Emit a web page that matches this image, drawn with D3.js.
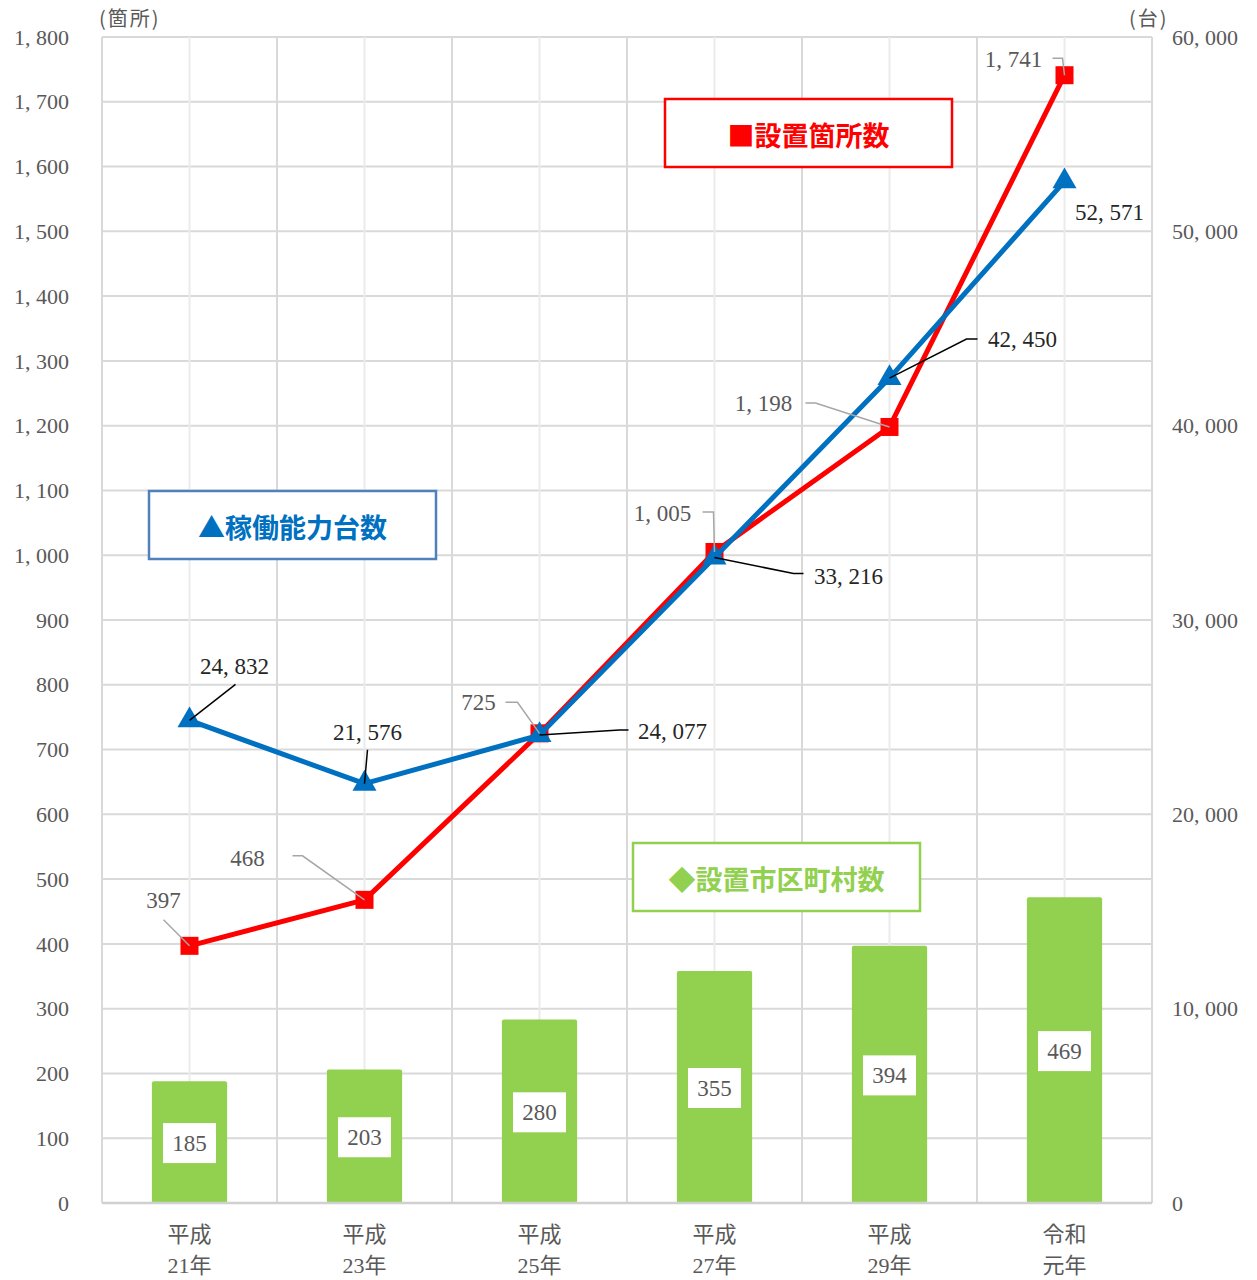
<!DOCTYPE html>
<html><head><meta charset="utf-8">
<script src="https://cdn.jsdelivr.net/npm/d3@7"></script>
<style>
html,body{margin:0;padding:0;background:#fff;}
svg{display:block;}
</style></head>
<body>
<svg id="chart" width="1257" height="1280"></svg>
<script>
// ---- data ----
const categories = [["平成","21年"],["平成","23年"],["平成","25年"],["平成","27年"],["平成","29年"],["令和","元年"]];
const municipalities = [185, 203, 280, 355, 394, 469];      // bars, left axis
const locations = [397, 468, 725, 1005, 1198, 1741];          // red line, left axis
const capacity = [24832, 21576, 24077, 33216, 42450, 52571];  // blue line, right axis
const leftTicks = [0,100,200,300,400,500,600,700,800,900,1000,1100,1200,1300,1400,1500,1600,1700,1800];
const rightTicks = [0,10000,20000,30000,40000,50000,60000];

// ---- label layout (pixel offsets from each point) ----
const redLabelOffsets = [[-26,-46],[-117,-42],[-61,-31],[-52,-39],[-126,-24],[-51,-16]];
const redLeaders = [
  [[-26,-26],[0,0]],
  [[-72,-44],[-62,-44],[0,0]],
  [[-34,-31],[-22,-31],[0,0]],
  [[-12,-40],[-1,-40],[0,0]],
  [[-84,-24],[-74,-24],[0,0]],
  [[-12,-17],[-2,-17],[0,0]]
];
const blueLabelOffsets = [[45,-54],[3,-52],[133,-4],[134,18],[133,-39],[45,31]];
const blueLeaders = [
  [[46,-36],[0,0]],
  [[3,-34],[0,0]],
  [[0,0],[80,-5],[89,-5]],
  [[0,0],[79,16],[89,16]],
  [[0,0],[77,-39],[88,-39]],
  null
];

const svg = d3.select("#chart");
const L = 102, R = 1152, T = 37, B = 1203;
const serif = "'Liberation Serif','Noto Sans CJK JP',serif";
const sans = "'Noto Sans CJK JP','Noto Sans',sans-serif";
const fmt = v => d3.format(",")(v).replace(",", ", ");

const x = d3.scaleBand().domain(d3.range(categories.length)).range([L, R]).padding(0);
const yL = d3.scaleLinear().domain([0, 1800]).range([B, T]);
const yR = d3.scaleLinear().domain([0, 60000]).range([B, T]);
const cx = i => x(i) + x.bandwidth() / 2;

// grid
const grid = svg.append("g");
grid.selectAll("line.h").data(leftTicks.filter(d => d > 0)).join("line")
  .attr("x1", L).attr("x2", R).attr("y1", d => yL(d)).attr("y2", d => yL(d))
  .attr("stroke", "#d9d9d9").attr("stroke-width", 2);
grid.selectAll("line.vb").data(d3.range(categories.length + 1)).join("line")
  .attr("x1", i => L + i * x.bandwidth()).attr("x2", i => L + i * x.bandwidth())
  .attr("y1", T).attr("y2", B).attr("stroke", "#d9d9d9").attr("stroke-width", 2);
grid.selectAll("line.vc").data(d3.range(categories.length)).join("line")
  .attr("x1", cx).attr("x2", cx).attr("y1", T).attr("y2", B)
  .attr("stroke", "#ebebeb").attr("stroke-width", 2);

// bars
const bw = x.bandwidth() * 0.43;
svg.append("g").selectAll("rect").data(municipalities).join("rect")
  .attr("x", (d, i) => cx(i) - bw / 2).attr("width", bw)
  .attr("y", d => yL(d) - 2).attr("height", d => B - yL(d) + 2)
  .attr("rx", 2).attr("fill", "#92D050");

// bottom axis line
svg.append("line").attr("x1", L).attr("x2", R).attr("y1", B).attr("y2", B)
  .attr("stroke", "#d0d0d0").attr("stroke-width", 2.5);

// bar labels
const bl = svg.append("g");
municipalities.forEach((d, i) => {
  const my = (yL(d) + B) / 2;
  bl.append("rect").attr("x", cx(i) - 26.5).attr("y", my - 20).attr("width", 53).attr("height", 40).attr("fill", "#fff");
  bl.append("text").attr("x", cx(i)).attr("y", my).attr("dy", "0.35em").attr("text-anchor", "middle")
    .attr("font-family", serif).attr("font-size", 23).attr("fill", "#595959").text(d);
});

// leaders
const lineGen = d3.line();
function drawLeaders(values, scale, leaders, color) {
  values.forEach((v, i) => {
    if (!leaders[i]) return;
    const px = cx(i), py = scale(v);
    svg.append("path").attr("d", lineGen(leaders[i].map(p => [px + p[0], py + p[1]])))
      .attr("fill", "none").attr("stroke", color).attr("stroke-width", 1.5);
  });
}

// red line
svg.append("path").datum(locations)
  .attr("d", d3.line().x((d, i) => cx(i)).y(d => yL(d)))
  .attr("fill", "none").attr("stroke", "#FF0000").attr("stroke-width", 5).attr("stroke-linejoin", "round");
svg.append("g").selectAll("rect").data(locations).join("rect")
  .attr("x", (d, i) => cx(i) - 9).attr("y", d => yL(d) - 9).attr("width", 18).attr("height", 18).attr("fill", "#FF0000");

// blue line
svg.append("path").datum(capacity)
  .attr("d", d3.line().x((d, i) => cx(i)).y(d => yR(d)))
  .attr("fill", "none").attr("stroke", "#0070C0").attr("stroke-width", 5).attr("stroke-linejoin", "round");
svg.append("g").selectAll("path").data(capacity).join("path")
  .attr("d", d3.symbol(d3.symbolTriangle, 250))
  .attr("transform", (d, i) => `translate(${cx(i)},${yR(d)})`)
  .attr("fill", "#0070C0");

drawLeaders(locations, yL, redLeaders, "#a6a6a6");
drawLeaders(capacity, yR, blueLeaders, "#000");

// red labels
svg.append("g").selectAll("text").data(locations).join("text")
  .attr("x", (d, i) => cx(i) + redLabelOffsets[i][0])
  .attr("y", (d, i) => yL(d) + redLabelOffsets[i][1])
  .attr("dy", "0.35em").attr("text-anchor", "middle")
  .attr("font-family", serif).attr("font-size", 23).attr("fill", "#595959").text(d => fmt(d));
// blue labels
svg.append("g").selectAll("text").data(capacity).join("text")
  .attr("x", (d, i) => cx(i) + blueLabelOffsets[i][0])
  .attr("y", (d, i) => yR(d) + blueLabelOffsets[i][1])
  .attr("dy", "0.35em").attr("text-anchor", "middle")
  .attr("font-family", serif).attr("font-size", 23).attr("fill", "#262626").text(d => fmt(d));

// left axis
svg.append("g").selectAll("text").data(leftTicks).join("text")
  .attr("x", 69).attr("y", d => yL(d)).attr("dy", "0.35em").attr("text-anchor", "end")
  .attr("font-family", serif).attr("font-size", 22).attr("fill", "#595959").text(d => fmt(d));
// right axis
svg.append("g").selectAll("text").data(rightTicks).join("text")
  .attr("x", 1172).attr("y", d => yR(d)).attr("dy", "0.35em").attr("text-anchor", "start")
  .attr("font-family", serif).attr("font-size", 22).attr("fill", "#595959").text(d => fmt(d));

// axis units
svg.append("text").attr("x", 99).attr("y", 26).attr("font-family", sans).attr("font-size", 20)
  .attr("letter-spacing", 2).attr("fill", "#595959").text("(箇所)");
svg.append("text").attr("x", 1129).attr("y", 26).attr("font-family", sans).attr("font-size", 20)
  .attr("letter-spacing", 2).attr("fill", "#595959").text("(台)");

// x labels
const xl = svg.append("g");
categories.forEach((c, i) => {
  xl.append("text").attr("x", cx(i)).attr("y", 1242).attr("text-anchor", "middle")
    .attr("font-family", serif).attr("font-size", 22).attr("fill", "#595959").text(c[0]);
  xl.append("text").attr("x", cx(i)).attr("y", 1273).attr("text-anchor", "middle")
    .attr("font-family", serif).attr("font-size", 22).attr("fill", "#595959").text(c[1]);
});

// legend boxes
const legends = [
  {text: "■設置箇所数", x: 665, y: 99, color: "#FF0000", stroke: "#FF0000"},
  {text: "▲稼働能力台数", x: 149, y: 491, color: "#0070C0", stroke: "#4F81BD"},
  {text: "◆設置市区町村数", x: 633, y: 843, color: "#92D050", stroke: "#92D050"}
];
legends.forEach(l => {
  svg.append("rect").attr("x", l.x).attr("y", l.y).attr("width", 287).attr("height", 68)
    .attr("fill", "#fff").attr("stroke", l.stroke).attr("stroke-width", 2.5);
  svg.append("text").attr("x", l.x + 143.5).attr("y", l.y + 37).attr("dy", "0.36em")
    .attr("text-anchor", "middle").attr("font-family", sans).attr("font-weight", "bold")
    .attr("font-size", 27).attr("fill", l.color).text(l.text);
});
</script>
</body></html>
